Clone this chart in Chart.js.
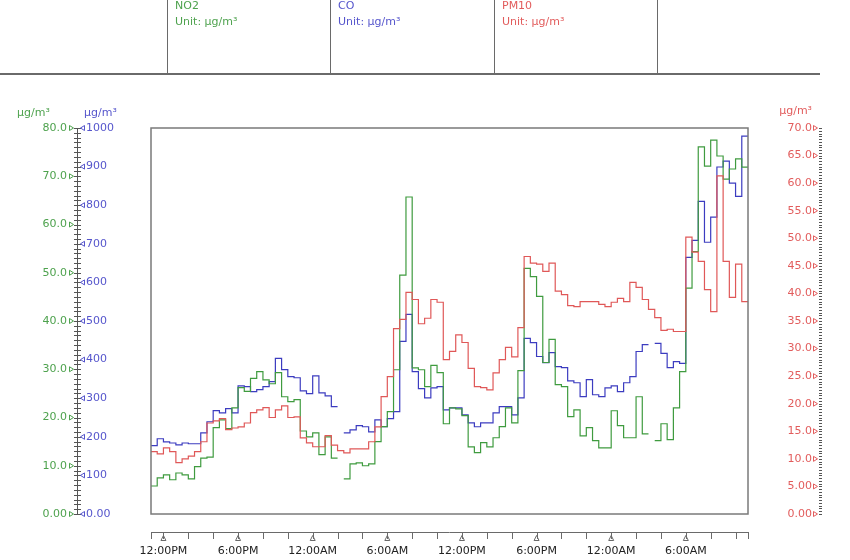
<!DOCTYPE html>
<html>
<head>
<meta charset="utf-8">
<script src="https://cdn.jsdelivr.net/npm/chart.js@4.4.0/dist/chart.umd.min.js"></script>
<style>
  html, body { margin: 0; padding: 0; background: #fff; }
  #wrap { width: 850px; height: 560px; }
</style>
</head>
<body>
<div id="wrap"><canvas id="chart"></canvas></div>
<script>
// half-hour readings from 11:00 AM, null = no reading
const no2 = [5.8, 7.5, 8.1, 7.1, 8.5, 8.1, 7.3, 9.8, 11.6, 11.8,
  17.9, 19.5, 17.7, 22.0, 26.2, 25.4, 28.1, 29.5, 27.8, 27.0,
  29.3, 24.3, 23.3, 23.7, 17.2, 16.0, 16.8, 12.3, 16.0, 11.6,
  null, 7.3, 10.4, 10.6, 10.0, 10.4, 15.0, 18.1, 21.2, 29.9,
  49.5, 65.7, 30.3, 29.9, 26.4, 30.8, 29.3, 18.7, 22.0, 21.8,
  20.4, 13.9, 12.7, 14.8, 13.9, 15.8, 18.1, 22.0, 18.9, 29.7,
  50.9, 49.2, 45.1, 31.4, 36.2, 26.8, 26.4, 20.2, 21.6, 16.2,
  17.9, 15.2, 13.7, 13.7, 21.4, 18.3, 15.8, 15.8, 24.3, 16.6,
  null, 15.2, 18.7, 15.4, 22.0, 29.5, 46.8, 54.4, 76.1, 72.1,
  77.5, 74.2, 69.4, 71.5, 73.6, 71.9];

const co = [177, 195, 187, 184, 179, 184, 182, 182, 210, 239,
  268, 262, 273, 262, 332, 330, 317, 322, 330, 343,
  403, 374, 356, 353, 319, 312, 358, 314, 306, 278,
  null, 210, 218, 229, 226, 213, 244, 226, 247, 265,
  447, 517, 369, 325, 301, 327, 330, 270, 275, 275,
  257, 236, 226, 236, 236, 262, 278, 278, 257, 301,
  455, 444, 408, 392, 418, 382, 379, 345, 340, 304,
  348, 309, 304, 327, 332, 317, 340, 356, 421, 439,
  null, 442, 416, 379, 395, 390, 665, 709, 810, 704,
  769, 899, 914, 857, 823, 979];

const pm10 = [11.3, 10.9, 12.0, 11.3, 9.3, 10.0, 10.5, 11.3, 13.1, 16.5,
  16.9, 17.3, 15.3, 15.6, 15.8, 16.5, 18.4, 18.9, 19.3, 17.5,
  18.9, 19.6, 17.5, 17.6, 13.8, 12.9, 12.2, 12.2, 14.2, 12.5,
  11.5, 11.1, 11.8, 11.8, 11.8, 13.1, 15.8, 21.3, 24.9, 33.6,
  35.3, 40.2, 38.9, 34.5, 35.5, 38.9, 38.4, 28.0, 29.5, 32.5,
  31.1, 26.4, 23.1, 22.9, 22.5, 25.6, 28.0, 30.2, 28.5, 33.8,
  46.7, 45.5, 45.3, 44.0, 45.5, 40.4, 39.8, 37.8, 37.6, 38.5,
  38.5, 38.5, 38.0, 37.6, 38.4, 39.1, 38.5, 42.0, 41.1, 38.9,
  37.1, 35.6, 33.3, 33.5, 33.1, 33.1, 50.2, 47.5, 45.8, 40.7,
  36.7, 61.3, 45.8, 39.3, 45.3, 38.5];

const seriesNames = ['NO2', 'CO', 'PM10'];
const unit = 'µg/m³';

// x axis: hours since 11:00 AM
const xTickHours = [1, 3, 5, 7, 9, 11, 13, 15, 17, 19, 21, 23, 25, 27, 29, 31, 33, 35, 37, 39, 41, 43, 45, 47];
const xLabelHours = [1, 7, 13, 19, 25, 31, 37, 43];
const xLabels = ['12:00PM', '6:00PM', '12:00AM', '6:00AM', '12:00PM', '6:00PM', '12:00AM', '6:00AM'];

const SLOT = 0.5;
const FONT = {family: 'DejaVu Sans', size: 11};
const GREEN = '#3f9b3f', BLUE = '#3c3cc0', RED = '#e05858';
const GREEN_TXT = '#4ea24e', BLUE_TXT = '#5555cc', RED_TXT = '#e25c5c';

function stepPoints(values) {
  const pts = [];
  values.forEach((v, i) => {
    pts.push({x: i * SLOT, y: v});
    const next = values[i + 1];
    if (v !== null && (next === undefined || next === null)) {
      pts.push({x: (i + 1) * SLOT, y: v});
    }
  });
  return pts;
}

function fmt3(v) {
  return v >= 100 ? String(v) : v.toPrecision(3);
}

function line(ctx, x1, y1, x2, y2) {
  ctx.beginPath();
  ctx.moveTo(x1, y1);
  ctx.lineTo(x2, y2);
  ctx.stroke();
}

function tri(ctx, pts) {
  ctx.beginPath();
  ctx.moveTo(pts[0], pts[1]);
  ctx.lineTo(pts[2], pts[3]);
  ctx.lineTo(pts[4], pts[5]);
  ctx.closePath();
  ctx.stroke();
}

const decor = {
  id: 'decor',
  afterDraw(chart) {
    const {ctx, chartArea: a, scales} = chart;
    const sN = scales.yNO2, sC = scales.yCO, sP = scales.yPM, sX = scales.x;
    ctx.save();
    ctx.lineWidth = 1;

    // header table
    ctx.strokeStyle = '#6a6a6a';
    [167, 330, 494, 657].forEach(x => line(ctx, x + 0.5, 0, x + 0.5, 74));
    ctx.lineWidth = 2;
    line(ctx, 0, 74, 820, 74);
    ctx.lineWidth = 1;
    ctx.font = '11px "DejaVu Sans"';
    ctx.textBaseline = 'alphabetic';
    ctx.textAlign = 'left';
    [GREEN_TXT, BLUE_TXT, RED_TXT].forEach((c, k) => {
      const x = [175, 338, 502][k];
      ctx.fillStyle = c;
      ctx.fillText(seriesNames[k], x, 9);
      ctx.fillText('Unit: ' + unit, x, 25);
    });

    // axis unit titles
    ctx.textBaseline = 'middle';
    ctx.fillStyle = GREEN_TXT;
    ctx.fillText(unit, 17, 113);
    ctx.fillStyle = BLUE_TXT;
    ctx.fillText(unit, 84, 113);
    ctx.fillStyle = RED_TXT;
    ctx.textAlign = 'right';
    ctx.fillText(unit, 812, 111);

    // plot frame
    ctx.strokeStyle = '#7a7a7a';
    ctx.lineWidth = 1.5;
    ctx.strokeRect(a.left, a.top, a.right - a.left, a.bottom - a.top);
    ctx.lineWidth = 1;

    // left shared axis line
    ctx.strokeStyle = '#555';
    line(ctx, 77.5, a.top, 77.5, a.bottom);
    for (let v = 0; v <= 80; v += 1) {
      const y = Math.round(sN.getPixelForValue(v)) + 0.5;
      line(ctx, 74, y, 81, y);
    }
    ctx.strokeStyle = GREEN_TXT;
    for (let v = 0; v <= 80; v += 10) {
      const y = sN.getPixelForValue(v);
      tri(ctx, [69.5, y - 2.5, 73.5, y, 69.5, y + 2.5]);
    }
    ctx.strokeStyle = BLUE_TXT;
    for (let v = 0; v <= 1000; v += 100) {
      const y = sC.getPixelForValue(v);
      tri(ctx, [84.5, y - 2.5, 80.5, y, 84.5, y + 2.5]);
    }

    // right dotted axis
    ctx.strokeStyle = '#555';
    for (let v = 0; v <= 70; v += 0.5) {
      const y = Math.round(sP.getPixelForValue(v)) + 0.5;
      line(ctx, 819, y, 822, y);
    }
    ctx.strokeStyle = RED_TXT;
    for (let v = 0; v <= 70; v += 5) {
      const y = sP.getPixelForValue(v);
      tri(ctx, [813.5, y - 2.5, 817.5, y, 813.5, y + 2.5]);
    }

    // time axis
    ctx.strokeStyle = '#6a6a6a';
    line(ctx, a.left, 532.5, a.right, 532.5);
    [0, 48].concat(xTickHours).forEach(h => {
      const x = Math.round(sX.getPixelForValue(h)) + 0.5;
      line(ctx, x, 532, x, 539);
    });
    xLabelHours.forEach(h => {
      const x = sX.getPixelForValue(h);
      tri(ctx, [x, 535.5, x - 2.5, 540.5, x + 2.5, 540.5]);
    });
    ctx.restore();
  }
};

const yAxisBase = {
  min: 0,
  grid: {display: false, drawTicks: false},
  border: {display: false},
};

new Chart(document.getElementById('chart'), {
  type: 'line',
  data: {
    datasets: [
      {label: seriesNames[2], data: stepPoints(pm10), yAxisID: 'yPM', borderColor: RED},
      {label: seriesNames[0], data: stepPoints(no2), yAxisID: 'yNO2', borderColor: GREEN},
      {label: seriesNames[1], data: stepPoints(co), yAxisID: 'yCO', borderColor: BLUE}
    ].map(d => Object.assign(d, {
      stepped: 'before', borderWidth: 1.2, pointRadius: 0, spanGaps: false, fill: false
    }))
  },
  options: {
    responsive: true,
    maintainAspectRatio: false,
    animation: false,
    layout: {padding: {top: 128, left: 0, right: 38, bottom: 0}},
    plugins: {legend: {display: false}, tooltip: {enabled: false}},
    scales: {
      x: {
        type: 'linear', min: 0, max: 48,
        grid: {display: false, drawTicks: false},
        border: {display: false},
        afterBuildTicks: s => { s.ticks = xTickHours.map(v => ({value: v})); },
        afterFit: s => { s.height = 46; },
        ticks: {
          autoSkip: false, maxRotation: 0, padding: 31, color: '#222', font: FONT,
          callback: v => {
            const k = xLabelHours.indexOf(v);
            return k >= 0 ? xLabels[k] : '';
          }
        }
      },
      yNO2: Object.assign({}, yAxisBase, {
        position: 'left', weight: 2, max: 80,
        afterFit: s => { s.width = 86; },
        ticks: {stepSize: 10, padding: 19, color: GREEN_TXT, font: FONT, callback: fmt3}
      }),
      yCO: Object.assign({}, yAxisBase, {
        position: 'left', weight: 1, max: 1000,
        afterFit: s => { s.width = 65; },
        ticks: {stepSize: 100, crossAlign: 'far', color: BLUE_TXT, font: FONT, callback: fmt3}
      }),
      yPM: Object.assign({}, yAxisBase, {
        position: 'right', max: 70,
        afterFit: s => { s.width = 64; },
        ticks: {stepSize: 5, crossAlign: 'far', color: RED_TXT, font: FONT, callback: fmt3}
      })
    }
  },
  plugins: [decor]
});
</script>
</body>
</html>
